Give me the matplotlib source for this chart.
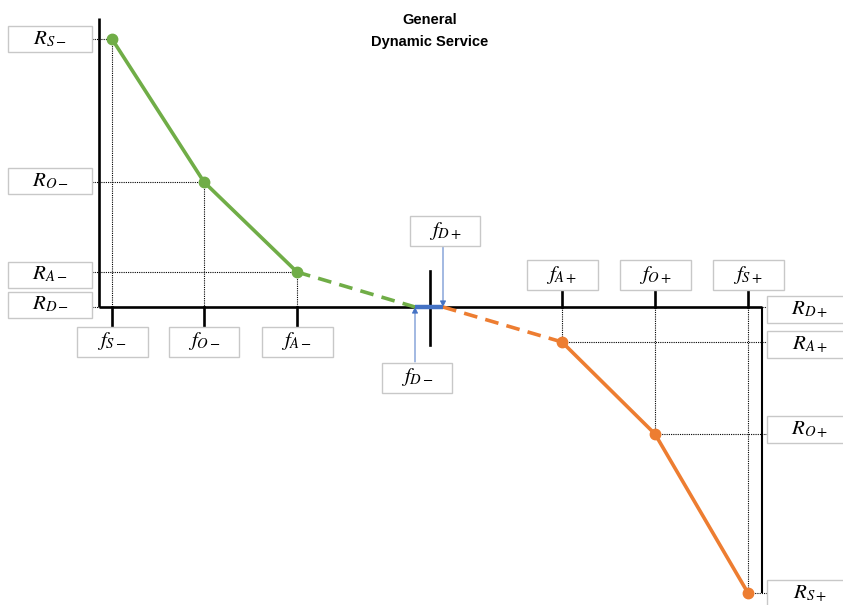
import matplotlib.pyplot as plt
from matplotlib.patches import Rectangle

# frequency / response points (arbitrary units, 0 = nominal)
freq_neg = [-31.7, -22.5, -13.2]      # f_S-, f_O-, f_A-
resp_neg = [26.8, 12.5, 3.5]          # R_S-, R_O-, R_A-
freq_pos = [13.3, 22.6, 31.9]         # f_A+, f_O+, f_S+
resp_pos = [-3.5, -12.7, -28.6]       # R_A+, R_O+, R_S+
deadband = [-1.4, 1.4]                # f_D-, f_D+

f_labels_neg = ['$f_{S-}$', '$f_{O-}$', '$f_{A-}$']
f_labels_pos = ['$f_{A+}$', '$f_{O+}$', '$f_{S+}$']
r_labels_neg = ['$R_{S-}$', '$R_{O-}$', '$R_{A-}$', '$R_{D-}$']
r_labels_pos = ['$R_{D+}$', '$R_{A+}$', '$R_{O+}$', '$R_{S+}$']

green = '#70ad47'
orange = '#ed7d31'
blue = '#4472c4'

plt.rcParams['mathtext.fontset'] = 'stix'

fig = plt.figure(figsize=(8.43, 6.05), dpi=100)
ax = fig.add_axes([0, 0, 1, 1])
ax.set_xlim(-42.9, 41.4)
ax.set_ylim(-29.8, 30.7)
ax.axis('off')

x_left, x_right = -33.0, 33.3
y_top, y_bot = 28.9, resp_pos[-1]


def box(x0, yc, w, h, label):
    ax.add_patch(Rectangle((x0, yc - h / 2), w, h, facecolor='white', edgecolor='#c8c8c8', lw=1, zorder=5))
    ax.text(x0 + w / 2, yc, label, ha='center', va='center', fontsize=15, zorder=6)


# axes of the diagram
ax.plot([x_left, x_left], [0, y_top], color='black', lw=1.9, solid_capstyle='butt')
ax.plot([x_left, x_right], [0, 0], color='black', lw=1.9, solid_capstyle='butt')
ax.plot([x_right, x_right], [0, y_bot], color='black', lw=1.5, solid_capstyle='butt')
ax.plot([0.1, 0.1], [3.6, -3.8], color='black', lw=1.9)

dot = dict(color='black', lw=0.8, linestyle=(0, (1, 1)))

# guides and ticks, negative side
for f, r in zip(freq_neg, resp_neg):
    ax.plot([f, f], [r, 0], **dot)
    ax.plot([-33.7, f], [r, r], **dot)
    ax.plot([f, f], [0, -1.9], color='black', lw=1.9)
ax.plot([-33.7, x_left], [0, 0], **dot)

# guides and ticks, positive side
for f, r in zip(freq_pos, resp_pos):
    ax.plot([f, f], [0, r], **dot)
    ax.plot([f, 33.8], [r, r], **dot)
    ax.plot([f, f], [0, 1.7], color='black', lw=1.9)
ax.plot([x_right, 33.8], [0, 0], **dot)

# response curves
ax.plot(freq_neg, resp_neg, color=green, lw=2.6, marker='o', ms=7.5, zorder=4)
ax.plot([freq_neg[-1], deadband[0]], [resp_neg[-1], 0], color=green, lw=2.6,
        linestyle=(0, (3.8, 2.3)), zorder=4)
ax.plot(freq_pos, resp_pos, color=orange, lw=2.6, marker='o', ms=7.5, zorder=4)
ax.plot([deadband[1], freq_pos[0]], [0, resp_pos[0]], color=orange, lw=2.6,
        linestyle=(0, (3.8, 2.3)), zorder=4)
ax.plot(deadband, [0, 0], color=blue, lw=3.2, zorder=4, solid_capstyle='butt')

# deadband arrows
ax.annotate('', xy=(deadband[1], 0), xytext=(deadband[1], 6.1),
            arrowprops=dict(arrowstyle='-|>', color=blue, lw=0.7, mutation_scale=9, shrinkA=0, shrinkB=0))
ax.annotate('', xy=(deadband[0], 0), xytext=(deadband[0], -5.5),
            arrowprops=dict(arrowstyle='-|>', color=blue, lw=0.7, mutation_scale=9, shrinkA=0, shrinkB=0))

# label boxes
for lab, yc in zip(r_labels_neg, [26.8, 12.6, 3.25, 0.25]):
    box(-42.1, yc, 8.4, 2.6, lab)
for lab, yc in zip(r_labels_pos, [-0.2, -3.75, -12.25, -28.6]):
    box(33.8, yc, 8.5, 2.7, lab)
for lab, f in zip(f_labels_neg, freq_neg):
    box(f - 3.55, -3.45, 7.1, 3.0, lab)
for lab, f in zip(f_labels_pos, freq_pos):
    box(f - 3.55, 3.2, 7.1, 3.0, lab)
box(deadband[1] - 3.3, 7.6, 7.0, 3.0, '$f_{D+}$')
box(deadband[0] - 3.3, -7.05, 7.0, 3.0, '$f_{D-}$')

ax.text(0.1, 27.6, 'General\nDynamic Service', ha='center', va='center', fontsize=10.5,
        fontweight='bold', family='Liberation Sans', linespacing=1.75)

fig.savefig('out.png', dpi=100)
